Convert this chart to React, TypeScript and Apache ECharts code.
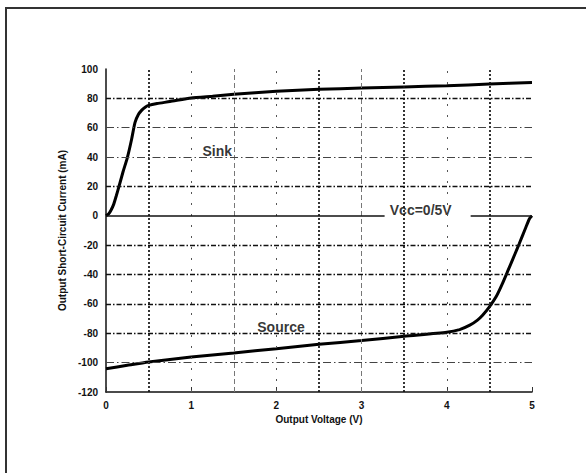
import React, { useEffect, useRef } from "react";
import * as echarts from "echarts";

const sinkV = [0, 0.03, 0.06, 0.09, 0.12, 0.15, 0.2, 0.25, 0.3, 0.34, 0.38, 0.42, 0.46, 0.5, 0.6, 0.75, 1.0, 1.25, 1.5, 2.0, 2.5, 3.0, 3.5, 4.0, 4.5, 5.0];
const sinkI = [0, 1.2, 4, 7.8, 13.5, 19.5, 30, 39.5, 52, 63.5, 69, 72, 74, 75.2, 76.5, 77.8, 80.3, 81.5, 82.8, 84.8, 86.2, 87, 87.8, 88.6, 89.7, 90.8];

const sourceV = [0, 0.25, 0.5, 1.0, 1.5, 2.0, 2.5, 3.0, 3.5, 4.0, 4.15, 4.27, 4.36, 4.42, 4.5, 4.58, 4.65, 4.72, 4.8, 4.85, 4.92, 4.97, 5.0];
const sourceI = [-104.2, -101.8, -99.5, -96.2, -93.4, -90.5, -87.5, -85, -82, -79.3, -77.5, -74.5, -71, -67.7, -62, -55, -46.5, -37, -26, -19, -9, -2, 0];

const denseV = [0.5, 2.5, 3.5, 4.5];
const sparseV = [1, 2, 4];
const dashedV = [1.5, 3];
const darkH = [80, 20, -20, -40, -60, -80];
const lightH = [60, 40, -100];
const zeroSegments = [[0, 3.27], [4.28, 5]];

const annotText = ["Sink", "Source", "Vcc=0/5V"];
const annotX = [1.27, 2.13, 3.77];
const annotY = [44, -75.7, 4.3];

const FONT = "'Liberation Sans', Arial, Helvetica, sans-serif";

export default function App() {
  const ref = useRef<HTMLDivElement>(null);
  useEffect(() => {
    if (!ref.current) return;
    const chart = echarts.init(ref.current, null, { renderer: "svg" });

    const gridLines: any[] = [];
    denseV.forEach((v) =>
      gridLines.push({ xAxis: v, lineStyle: { color: "#111", width: 1.7, type: [2, 2] } })
    );
    sparseV.forEach((v) =>
      gridLines.push({ xAxis: v, lineStyle: { color: "#555", width: 1, type: [2, 9] } })
    );
    dashedV.forEach((v) =>
      gridLines.push({ xAxis: v, lineStyle: { color: "#777", width: 1, type: [5, 3] } })
    );
    darkH.forEach((v) =>
      gridLines.push({ yAxis: v, lineStyle: { color: "#111", width: 1.3, type: [5, 2, 1.5, 2] } })
    );
    lightH.forEach((v) =>
      gridLines.push({ yAxis: v, lineStyle: { color: "#444", width: 1, type: [8, 3, 1.5, 3] } })
    );
    zeroSegments.forEach((s) =>
      gridLines.push([
        { coord: [s[0], 0], lineStyle: { color: "#111", width: 1.6, type: "solid" } },
        { coord: [s[1], 0] },
      ])
    );

    chart.setOption({
      animation: false,
      backgroundColor: "#fff",
      textStyle: { fontFamily: FONT },
      graphic: [
        {
          type: "rect",
          shape: { x: 6, y: 8, width: 640, height: 540 },
          style: { fill: "none", stroke: "#333", lineWidth: 2 },
          silent: true,
        },
      ],
      grid: { left: 106, right: 54, top: 69, bottom: 81 },
      xAxis: {
        type: "value",
        min: 0,
        max: 5,
        interval: 1,
        name: "Output Voltage (V)",
        nameLocation: "middle",
        nameGap: 21,
        nameTextStyle: { fontSize: 10, fontWeight: "bold", color: "#111", fontFamily: FONT },
        axisLine: { show: true, onZero: false, lineStyle: { color: "#111", width: 1.5 } },
        axisTick: { show: true, inside: true, length: 5, lineStyle: { color: "#333" } },
        axisLabel: { fontSize: 10, fontWeight: "bold", color: "#111", margin: 8, fontFamily: FONT },
        splitLine: { show: false },
      },
      yAxis: {
        type: "value",
        min: -120,
        max: 100,
        interval: 20,
        name: "Output Short-Circuit Current (mA)",
        nameLocation: "middle",
        nameGap: 38,
        nameTextStyle: { fontSize: 10, fontWeight: "bold", color: "#111", fontFamily: FONT },
        axisLine: { show: true, onZero: false, lineStyle: { color: "#111", width: 1.5 } },
        axisTick: { show: false },
        axisLabel: { fontSize: 10, fontWeight: "bold", color: "#111", margin: 8, fontFamily: FONT },
        splitLine: { show: false },
      },
      series: [
        {
          type: "line",
          name: "grid",
          data: [],
          z: 1,
          silent: true,
          markLine: {
            silent: true,
            symbol: ["none", "none"],
            label: { show: false },
            emphasis: { disabled: true },
            data: gridLines,
          },
        },
        {
          type: "line",
          name: "Sink",
          data: sinkV.map((v, i) => [v, sinkI[i]]),
          showSymbol: false,
          smooth: 0.2,
          z: 3,
          lineStyle: { color: "#000", width: 3 },
        },
        {
          type: "line",
          name: "Source",
          data: sourceV.map((v, i) => [v, sourceI[i]]),
          showSymbol: false,
          smooth: 0.2,
          z: 3,
          lineStyle: { color: "#000", width: 3 },
        },
        {
          type: "scatter",
          name: "labels",
          z: 4,
          symbolSize: 0,
          silent: true,
          data: annotText.map((t, i) => ({
            value: [annotX[i], annotY[i]],
            label: {
              show: true,
              position: "inside",
              formatter: t,
              fontSize: 14,
              fontWeight: "bold",
              color: "#000",
              fontFamily: FONT,
              backgroundColor: i === 2 ? "transparent" : "#fff",
              padding: i === 0 ? [3, 10, 3, 16] : [3, 16, 3, 3],
            },
          })),
        },
      ],
    });
    return () => chart.dispose();
  }, []);
  return (
    <div
      ref={ref}
      style={{ position: "fixed", left: 0, top: 0, width: 586, height: 473 }}
    />
  );
}
